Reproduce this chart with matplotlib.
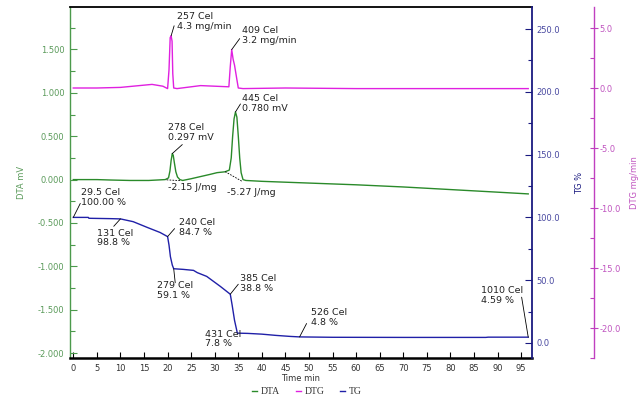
import matplotlib
matplotlib.use("Agg")
import matplotlib.pyplot as plt
from matplotlib.ticker import MultipleLocator, FormatStrFormatter

plt.rcParams['axes.unicode_minus'] = False
plt.rcParams['font.family'] = ['DejaVu Sans']

# ---------------- data (time in min) ----------------
dta_t = [0, 5, 8, 12, 16, 19.5, 20.2, 20.5, 20.75, 21.0, 21.2, 21.45, 21.75, 22.1, 22.6, 23.2,
         25, 27, 29, 30.5, 32.2, 33.1, 33.5, 33.8, 34.1, 34.4, 34.7, 35.0, 35.3, 35.6, 36.0,
         36.6, 40, 50, 60, 70, 80, 90, 96.5]
dta_v = [0.0, 0.0, -0.005, -0.01, -0.01, 0.0, 0.02, 0.10, 0.22, 0.30, 0.28, 0.19, 0.09, 0.03,
         0.0, -0.01, 0.01, 0.035, 0.06, 0.08, 0.09, 0.11, 0.25, 0.5, 0.7, 0.78, 0.72, 0.5, 0.25,
         0.08, 0.0, -0.01, -0.02, -0.04, -0.06, -0.085, -0.115, -0.145, -0.165]

dtg_t = [0, 5, 10, 14, 16.7, 19, 20.0, 20.3, 20.55, 20.75, 20.95, 21.1, 21.3, 22, 24, 27, 30,
         33.0, 33.3, 33.6, 33.9, 34.2, 34.7, 35.0, 36, 45, 60, 80, 96.5]
dtg_v = [0.0, 0.0, 0.05, 0.2, 0.3, 0.15, -0.05, 1.5, 4.2, 4.35, 3.9, 1.2, 0.0, -0.05, 0.05, 0.2,
         0.15, 0.1, 1.8, 3.2, 2.4, 1.9, 0.7, 0.0, -0.05, 0.0, -0.05, -0.05, -0.05]

tg_t = [0, 3.2, 3.3, 8, 10, 12.7, 15.7, 18.4, 20.0, 20.3, 20.6, 21.0, 21.3, 23.3, 25.5, 26.3,
        28.3, 31.2, 33.3, 33.7, 34.2, 34.8, 37, 40, 43, 46, 48, 55, 70, 87.5, 88, 96.5]
tg_v = [100.0, 100.0, 99.3, 99.0, 98.8, 96.6, 92.0, 88.0, 84.7, 78.0, 68.7, 62.0, 59.1, 58.6,
        57.8, 56.0, 53.0, 45.0, 38.8, 30.0, 18.0, 7.8, 7.6, 7.0, 6.0, 5.2, 4.8, 4.5, 4.4, 4.4,
        4.6, 4.59]

# peak / step annotations: (time, value, text)
dtg_notes = [(20.75, 4.35, "257 Cel\n4.3 mg/min"), (33.6, 3.2, "409 Cel\n3.2 mg/min")]
dta_notes = [(21.0, 0.30, "278 Cel\n0.297 mV"), (34.4, 0.78, "445 Cel\n0.780 mV")]
tg_notes = [(0, 100.0, "29.5 Cel\n100.00 %"), (10, 98.8, "131 Cel\n98.8 %"),
            (20.0, 84.7, "240 Cel\n84.7 %"), (21.3, 59.1, "279 Cel\n59.1 %"),
            (33.3, 38.8, "385 Cel\n38.8 %"), (34.8, 7.8, "431 Cel\n7.8 %"),
            (48, 4.8, "526 Cel\n4.8 %"), (96.5, 4.59, "1010 Cel\n4.59 %")]
# integration baselines of the DTA peaks
base1_t = [19.8, 22.8]
base1_v = [-0.003, -0.012]
base2_t = [32.2, 35.8]
base2_v = [0.092, -0.02]
heat_texts = ["-2.15 J/mg", "-5.27 J/mg"]

x_ticks = list(range(0, 100, 5))

# ---------------- style ----------------
C_DTA = '#2a8a2a'
C_DTG = '#e020e0'
C_TG = '#2020a8'
AX_DTA = '#4c9a4c'
AX_TG = '#1a1a80'
AX_DTG = '#c040c0'
LBL_DTA = '#5a9a5a'
LBL_TG = '#4848a0'
LBL_DTG = '#c055c0'

fig = plt.figure(figsize=(6.44, 3.98), dpi=100)
L, R, B, T = 70 / 644, 532 / 644, 1 - 358 / 398, 1 - 7 / 398
ax = fig.add_axes([L, B, R - L, T - B])
ax_tg = ax.twinx()
ax_dtg = ax.twinx()
ax_dtg.spines['right'].set_position(('axes', (594 - 70) / 462))

ax.set_xlim(-0.7, 97.3)
ax.set_ylim(-2.057, 1.99)
ax_tg.set_ylim(-12, 267.6)
ax_dtg.set_ylim(-22.5, 6.75)

# curves
l1, = ax.plot(dta_t, dta_v, color=C_DTA, lw=1.0, label='DTA')
l2, = ax_dtg.plot(dtg_t, dtg_v, color=C_DTG, lw=1.0, label='DTG')
l3, = ax_tg.plot(tg_t, tg_v, color=C_TG, lw=1.0, label='TG')
ax.plot(base1_t, base1_v, color='k', lw=0.6, ls=(0, (2, 1.5)))
ax.plot(base2_t, base2_v, color='k', lw=0.6, ls=(0, (2, 1.5)))

# spines
for a in (ax, ax_tg, ax_dtg):
    for s in a.spines.values():
        s.set_visible(False)
ax.spines['left'].set_visible(True)
ax.spines['left'].set_color(AX_DTA)
ax.spines['left'].set_linewidth(1.0)
ax.spines['top'].set_visible(True)
ax.spines['top'].set_color('black')
ax.spines['top'].set_linewidth(1.3)
ax.spines['bottom'].set_visible(True)
ax.spines['bottom'].set_color('black')
ax.spines['bottom'].set_linewidth(1.8)
ax_tg.spines['right'].set_visible(True)
ax_tg.spines['right'].set_color(AX_TG)
ax_tg.spines['right'].set_linewidth(1.3)
ax_dtg.spines['right'].set_visible(True)
ax_dtg.spines['right'].set_color(AX_DTG)
ax_dtg.spines['right'].set_linewidth(1.0)

# ticks
ax.set_xticks(x_ticks)
ax.tick_params(axis='x', direction='in', length=4, width=0.8, color='black', labelsize=6,
               labelcolor='#333333', pad=4, top=False)
ax.yaxis.set_major_locator(MultipleLocator(0.5))
ax.yaxis.set_minor_locator(MultipleLocator(0.25))
ax.yaxis.set_major_formatter(FormatStrFormatter('%.3f'))
ax.tick_params(axis='y', which='major', direction='in', length=5, width=0.8, color=AX_DTA,
               labelsize=6, labelcolor=LBL_DTA, pad=4)
ax.tick_params(axis='y', which='minor', direction='in', length=3.5, width=0.8, color=AX_DTA)

ax_tg.yaxis.set_major_locator(MultipleLocator(50))
ax_tg.yaxis.set_minor_locator(MultipleLocator(25))
ax_tg.yaxis.set_major_formatter(FormatStrFormatter('%.1f'))
ax_tg.tick_params(axis='y', which='major', direction='in', length=5, width=0.8, color=AX_TG,
                  labelsize=6, labelcolor=LBL_TG, pad=3)
ax_tg.tick_params(axis='y', which='minor', direction='in', length=3, width=0.8, color=AX_TG)

ax_dtg.yaxis.set_major_locator(MultipleLocator(5))
ax_dtg.yaxis.set_minor_locator(MultipleLocator(2.5))
ax_dtg.yaxis.set_major_formatter(FormatStrFormatter('%.1f'))
ax_dtg.tick_params(axis='y', which='major', direction='inout', length=6, width=0.8, color=AX_DTG,
                   labelsize=6, labelcolor=LBL_DTG, pad=1)
ax_dtg.tick_params(axis='y', which='minor', direction='in', length=3, width=0.8, color=AX_DTG)

# axis labels
ax.set_xlabel('Time min', fontsize=6, color='#333333', labelpad=1)
ax.set_ylabel('DTA mV', fontsize=6, color=LBL_DTA)
ax.yaxis.set_label_coords((26 - 70) / 462, 0.5)
ax_tg.set_ylabel('TG %', fontsize=6, color=AX_TG)
ax_tg.yaxis.set_label_coords((575 - 70) / 462, 0.5)
ax_dtg.set_ylabel('DTG mg/min', fontsize=6, color=LBL_DTG)
ax_dtg.yaxis.set_label_coords((630 - 70) / 462, 0.5)

# annotations: (text offset px, leader end offset px)
FS = 6.8
TXT = dict(fontsize=FS, color='#222222', ha='left', va='center', linespacing=1.1,
           textcoords='offset pixels')
LEAD = dict(arrowstyle='-', lw=0.6, color='black', shrinkA=0, shrinkB=0)

dtg_off = [((6, 14), (3, 10)), ((10.5, 14), (8, 11))]
for (t, v, s), (to, lo) in zip(dtg_notes, dtg_off):
    ax_dtg.annotate('', xy=(t, v), xytext=lo, textcoords='offset pixels', arrowprops=LEAD)
    ax_dtg.annotate(s, xy=(t, v), xytext=to, **TXT)

dta_off = [((-4, 21), (10, 9)), ((7, 8.5), (5, 8))]
for (t, v, s), (to, lo) in zip(dta_notes, dta_off):
    ax.annotate('', xy=(t, v), xytext=lo, textcoords='offset pixels', arrowprops=LEAD)
    ax.annotate(s, xy=(t, v), xytext=to, **TXT)

ax.annotate(heat_texts[0], xy=(base1_t[0], base1_v[0]), xytext=(1, -8), **TXT)
ax.annotate(heat_texts[1], xy=(base2_t[0], base2_v[0]), xytext=(2, -21), **TXT)

tg_off = [((8, 20), (7, 14)), ((-23, -19), (-6.7, -7.4)), ((11, 9), (7, 8)),
          ((-16.5, -22), (1.5, -14)), ((9.3, 10.8), (8, 10)), ((-32, -6), None),
          ((11, 19.5), (7, 13.4)), ((-47.3, 41.7), (-6.6, 40))]
for (t, v, s), (to, lo) in zip(tg_notes, tg_off):
    if lo is not None:
        ax_tg.annotate('', xy=(t, v), xytext=lo, textcoords='offset pixels', arrowprops=LEAD)
    ax_tg.annotate(s, xy=(t, v), xytext=to, **TXT)

# legend
leg = fig.legend(handles=[l1, l2, l3], loc='center', bbox_to_anchor=(307 / 644, 1 - 392 / 398),
                 ncol=3, frameon=False, handlelength=0.5, handletextpad=0.4, columnspacing=1.6,
                 prop={'family': 'Liberation Serif', 'size': 7})
for txt in leg.get_texts():
    txt.set_color('#333333')

fig.savefig('out.png', dpi=100)
